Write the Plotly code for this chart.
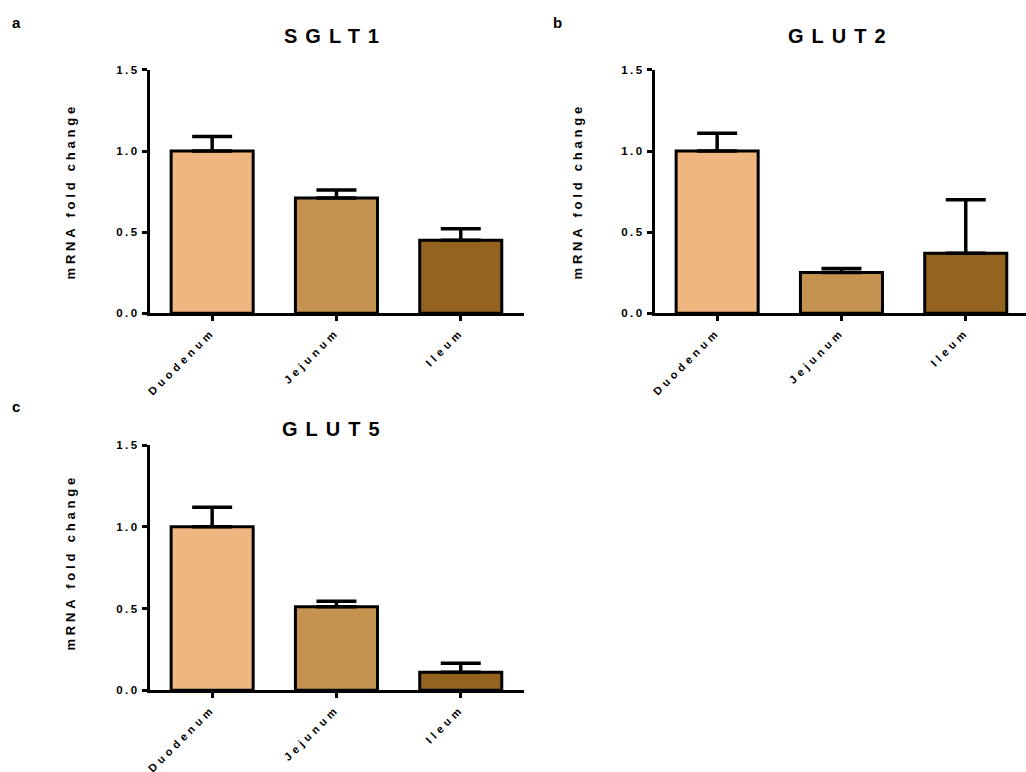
import plotly.graph_objects as go

# Intestinal segments and fill colours
regions = ["Duodenum", "Jejunum", "Ileum"]
bar_colors = ["#F0B67F", "#C4934F", "#93621F"]

# Relative mRNA expression (mean and upper SEM)
sglt1_mean = [1.00, 0.71, 0.45]
sglt1_sem = [0.09, 0.05, 0.07]
glut2_mean = [1.00, 0.25, 0.37]
glut2_sem = [0.11, 0.025, 0.33]
glut5_mean = [1.00, 0.51, 0.11]
glut5_sem = [0.12, 0.035, 0.055]

y_tick_vals = [0, 0.5, 1.0, 1.5]
y_tick_text = ["0.0", "0.5", "1.0", "1.5"]

panels = [
    ("SGLT1", "a", sglt1_mean, sglt1_sem, "x", "y"),
    ("GLUT2", "b", glut2_mean, glut2_sem, "x2", "y2"),
    ("GLUT5", "c", glut5_mean, glut5_sem, "x3", "y3"),
]

W, H = 1026, 772
FONT = "Liberation Sans, Arial, sans-serif"


def px(x):
    return x / W


def py(y):
    return 1 - y / H


fig = go.Figure()
for name, letter, mean, sem, xa, ya in panels:
    fig.add_trace(go.Bar(
        x=regions, y=mean, xaxis=xa, yaxis=ya, width=0.66,
        marker=dict(color=bar_colors, line=dict(color="black", width=3)),
        error_y=dict(type="data", symmetric=False, array=sem,
                     arrayminus=[0] * len(sem), color="black",
                     thickness=3.5, width=20),
        showlegend=False, name=name,
    ))

axis_common = dict(showline=True, linecolor="black", linewidth=3,
                   ticks="outside", ticklen=5, tickwidth=3, tickcolor="black",
                   showgrid=False, zeroline=False, fixedrange=True)
xfont = dict(family=FONT, size=11, color="black", weight="bold")
yfont = dict(family=FONT, size=11.5, color="black", weight="bold")

# panel placement in pixels: (x0, x1, ytop, ybottom)
boxes = {
    "a": (150, 524, 65, 312),
    "b": (655, 1026, 65, 312),
    "c": (150, 524, 446, 695),
}

layout = dict(
    width=W, height=H, margin=dict(l=0, r=0, t=0, b=0),
    paper_bgcolor="white", plot_bgcolor="white", bargap=0.3,
)
for i, (name, letter, mean, sem, xa, ya) in enumerate(panels):
    x0, x1, yt, yb = boxes[letter]
    suffix = "" if i == 0 else str(i + 1)
    xr = [-0.5, -0.5 + (x1 - x0) / 124.3]
    layout["xaxis" + suffix] = dict(
        domain=[px(x0), px(x1)], anchor=ya, range=xr, tickangle=-45,
        tickfont=xfont, **axis_common)
    layout["yaxis" + suffix] = dict(
        domain=[py(yb), py(yt)], anchor=xa, range=[0, 1.5],
        tickvals=y_tick_vals, ticktext=y_tick_text, tickfont=yfont,
        **axis_common)

annotations = []
titles = {"a": (335, 30), "b": (841, 30), "c": (335, 430)}
ytitles = {"a": (70, 188), "b": (577, 188), "c": (70, 565)}
letters = {"a": (16, 17), "b": (557, 17), "c": (16, 407)}
for name, letter, *_ in panels:
    tx, ty = titles[letter]
    annotations.append(dict(
        text=name, x=px(tx), y=py(ty), xref="paper", yref="paper",
        showarrow=False, xanchor="center", yanchor="middle",
        font=dict(family=FONT, size=20, color="black", weight="bold"),
        name="title"))
    ax_, ay_ = ytitles[letter]
    annotations.append(dict(
        text="mRNA fold change", x=px(ax_), y=py(ay_), xref="paper",
        yref="paper", showarrow=False, textangle=-90,
        xanchor="center", yanchor="middle",
        font=dict(family=FONT, size=13, color="black", weight="bold"),
        name="ytitle"))
    lx, ly = letters[letter]
    annotations.append(dict(
        text=letter, x=px(lx), y=py(ly), xref="paper", yref="paper",
        showarrow=False, xanchor="center", yanchor="middle",
        font=dict(family=FONT, size=15, color="black", weight="bold"),
        name="letter"))
layout["annotations"] = annotations
fig.update_layout(**layout)

# Wide letter spacing for the bold labels
spacing_js = """
document.querySelectorAll('g[class$="tick"] > text').forEach(function(t){
  var c = t.parentNode.getAttribute('class') || '';
  t.style.letterSpacing = c.charAt(0) === 'x' ? '4px' : '2.5px';
});
document.querySelectorAll('.annotation-text').forEach(function(t){
  var txt = t.textContent;
  if (txt.length > 1 && txt.indexOf(' ') < 0) { t.style.letterSpacing = '8px'; }
  else if (txt.length > 1) { t.style.letterSpacing = '3.8px'; }
});
"""

fig.write_html("out.html", post_script=spacing_js)
